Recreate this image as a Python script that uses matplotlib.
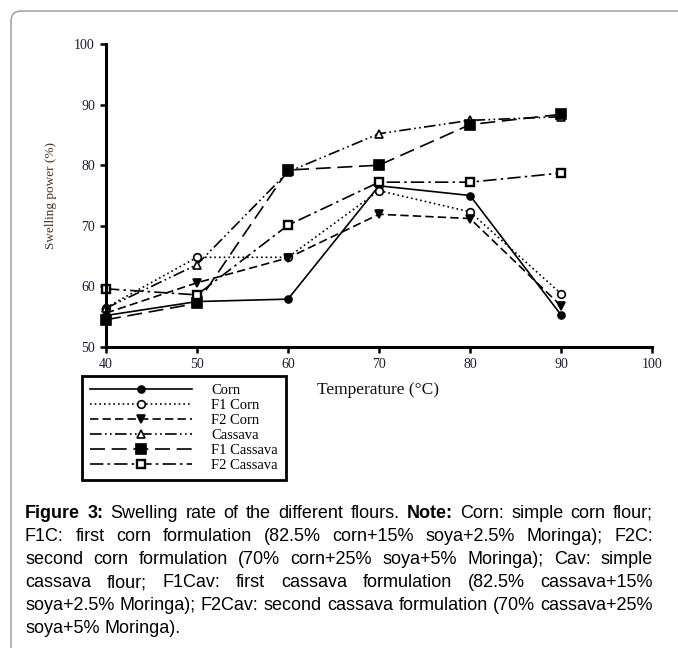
import numpy as np
import matplotlib
matplotlib.use("Agg")
import matplotlib.pyplot as plt
from matplotlib.patches import FancyBboxPatch
from matplotlib.transforms import IdentityTransform

# Swelling power (%) of the flours vs temperature
temperature = [40, 50, 60, 70, 80, 90]
corn = [55.2, 57.5, 57.9, 76.6, 75.0, 55.3]
f1_corn = [56.5, 64.8, 64.8, 75.8, 72.3, 58.8]
f2_corn = [55.6, 60.6, 64.7, 71.9, 71.2, 56.8]
cassava = [56.4, 63.6, 78.9, 85.2, 87.4, 88.0]
f1_cassava = [54.5, 57.2, 79.2, 80.0, 86.7, 88.4]
f2_cassava = [59.6, 58.6, 70.1, 77.2, 77.2, 78.7]

series_labels = ["Corn", "F1 Corn", "F2 Corn", "Cassava", "F1 Cassava", "F2 Cassava"]
x_ticks = [40, 50, 60, 70, 80, 90, 100]
y_ticks = [50, 60, 70, 80, 90, 100]

caption_lines = [
    [("Figure", True), ("3:", True), ("Swelling", False), ("rate", False), ("of", False), ("the", False),
     ("different", False), ("flours.", False), ("Note:", True), ("Corn:", False), ("simple", False),
     ("corn", False), ("flour;", False)],
    [(w, False) for w in "F1C: first corn formulation (82.5% corn+15% soya+2.5% Moringa); F2C:".split()],
    [(w, False) for w in "second corn formulation (70% corn+25% soya+5% Moringa); Cav: simple".split()],
    [(w, False) for w in "cassava flour; F1Cav: first cassava formulation (82.5% cassava+15%".split()],
    [(w, False) for w in "soya+2.5% Moringa); F2Cav: second cassava formulation (70% cassava+25%".split()],
    [(w, False) for w in "soya+5% Moringa).".split()],
]

W, H = 678, 648
fig = plt.figure(figsize=(W / 100, H / 100), dpi=100)
serif = "Liberation Serif"
sans = "Liberation Sans"

# page frame (rounded, cut off at right and bottom)
frame = FancyBboxPatch((11, -40), 720, H - 11 + 40, boxstyle="round,pad=0,rounding_size=10",
                       transform=IdentityTransform(), fill=False, edgecolor="#a0a0a0", linewidth=1.1)
fig.patches.append(frame)

ax = fig.add_axes([106 / W, 1 - 347 / H, (652 - 106) / W, (347 - 44) / H])

styles = [
    dict(linestyle="-", marker="o", mfc="black", ms=5),
    dict(linestyle=(0, (1, 1.8)), marker="o", mfc="white", ms=5.5),
    dict(linestyle=(0, (5, 2.5)), marker="v", mfc="black", ms=6),
    dict(linestyle=(0, (7, 2, 1, 2, 1, 2)), marker="^", mfc="white", ms=5.5),
    dict(linestyle=(0, (9, 4)), marker="s", mfc="black", ms=6.5),
    dict(linestyle=(0, (8, 2.5, 1.5, 2.5)), marker="s", mfc="white", ms=5.5, mew=1.7),
]
all_series = [corn, f1_corn, f2_corn, cassava, f1_cassava, f2_cassava]
handles = []
for vals, lab, st in zip(all_series, series_labels, styles):
    st = dict(st)
    mew = st.pop("mew", 1.2)
    h, = ax.plot(temperature, vals, color="black", linewidth=1.2, mec="black", mew=mew,
                 clip_on=False, label=lab, **st)
    handles.append(h)

ax.set_xlim(40, 100)
ax.set_ylim(50, 100)
ax.set_xticks(x_ticks)
ax.set_yticks(y_ticks)
for s in ["top", "right"]:
    ax.spines[s].set_visible(False)
for s in ["left", "bottom"]:
    ax.spines[s].set_linewidth(2.2)
ax.tick_params(axis="both", direction="out", length=4, width=1.8, labelsize=10, pad=4,
               colors="black", labelcolor="#1c1c30")
for lbl in ax.get_xticklabels() + ax.get_yticklabels():
    lbl.set_fontfamily(serif)

ax.set_ylabel("Swelling power (%)", fontsize=9.5, family=serif, color="#4a3020", labelpad=12)

fig.text(317 / W, 1 - 390 / H, "Temperature (\u00b0C)", fontsize=12.5, family=serif,
         va="center", ha="left", color="#111111")

leg = ax.legend(handles=handles, loc="upper left", bbox_to_anchor=(82 / W, 1 - 376 / H),
                bbox_transform=fig.transFigure, borderaxespad=0, fancybox=False,
                edgecolor="black", framealpha=1, numpoints=1, handlelength=7.0,
                handletextpad=1.3, labelspacing=0.12, borderpad=0.55,
                prop={"family": serif, "size": 10.5})
leg.get_frame().set_linewidth(2)

# justified caption
fig.canvas.draw()
renderer = fig.canvas.get_renderer()
left_px, right_px = 25, 653
cap_size = 13
for i, line in enumerate(caption_lines):
    y = 1 - (518 + 23 * i) / H
    texts = [fig.text(0, y, w, fontsize=cap_size, family=sans, fontweight="bold" if b else "normal",
                      va="baseline", ha="left", color="black") for w, b in line]
    widths = [t.get_window_extent(renderer).width for t in texts]
    if i == len(caption_lines) - 1:
        gap = cap_size * 100 / 72 * 0.278
    else:
        gap = (right_px - left_px - sum(widths)) / (len(texts) - 1)
    x = left_px
    for t, w in zip(texts, widths):
        t.set_x(x / W)
        x += w + gap

fig.savefig("out.png", dpi=100)
